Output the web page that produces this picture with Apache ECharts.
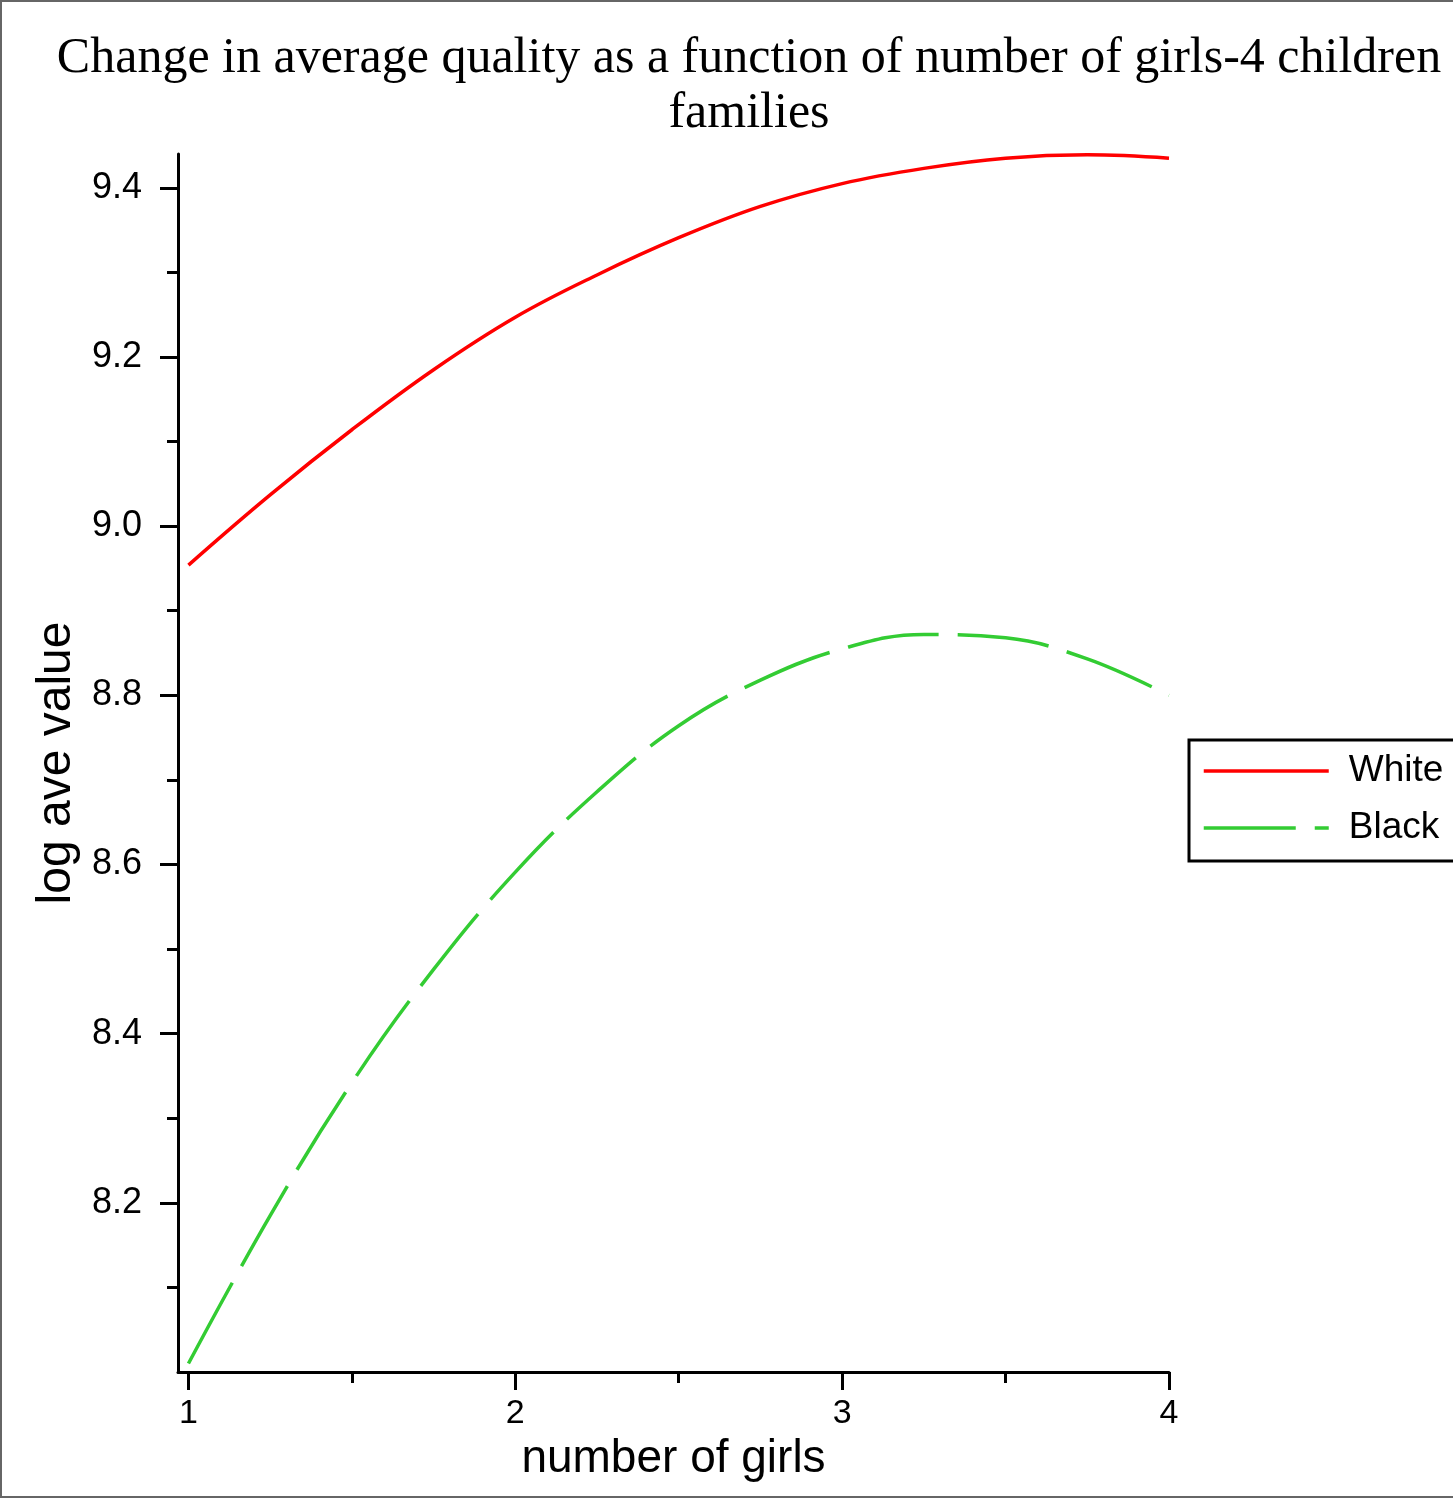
<!DOCTYPE html>
<html>
<head>
<meta charset="utf-8">
<title>Change in average quality</title>
<script src="https://cdn.jsdelivr.net/npm/echarts@6.0.0/dist/echarts.min.js"></script>
<style>
  html, body { margin: 0; padding: 0; background: #fff; }
  #chart { width: 1453px; height: 1499px; }
</style>
</head>
<body>
<div id="chart"></div>
<script>
// number of girls (x) sampled along both fitted curves
const girls = [1, 1.25, 1.5, 1.75, 2, 2.25, 2.5, 2.75, 3, 3.25, 3.5, 3.75, 4];
// log average value, White families
const whiteValues = [8.954, 9.037, 9.114, 9.185, 9.247, 9.297, 9.341, 9.378, 9.405, 9.423, 9.435, 9.439, 9.435];
// log average value, Black families
const blackValues = [8.010, 8.185, 8.342, 8.476, 8.591, 8.686, 8.764, 8.818, 8.855, 8.872, 8.868, 8.843, 8.800];

// axis ticks
const xMajorTicks = [1, 2, 3, 4];
const xMinorTicks = [1.5, 2.5, 3.5];
const yMajorTicks = [8.2, 8.4, 8.6, 8.8, 9.0, 9.2, 9.4];
const yMinorTicks = [8.1, 8.3, 8.5, 8.7, 8.9, 9.1, 9.3];

const xMin = 0.968, xMax = 4;
const yMin = 8.0, yMax = 9.44;

const pairs = vals => girls.map((g, i) => [g, vals[i]]);

const sans = '"Liberation Sans", Arial, Helvetica, sans-serif';
const serif = '"Liberation Serif", "Times New Roman", serif';
const axisLine = { show: true, onZero: false, lineStyle: { color: '#000', width: 3 } };

const chart = echarts.init(document.getElementById('chart'), null, { renderer: 'canvas' });
chart.setOption({
  animation: false,
  backgroundColor: '#fff',
  title: {
    text: 'Change in average quality as a function of number of girls-4 children\nfamilies',
    left: 749,
    top: 31,
    padding: 0,
    textAlign: 'center',
    textStyle: { fontFamily: serif, fontWeight: 'normal', fontSize: 50, lineHeight: 55, color: '#000' }
  },
  graphic: [{
    type: 'rect', silent: true, z: -1,
    shape: { x: 1, y: 1, width: 1470, height: 1496 },
    style: { fill: 'none', stroke: '#666', lineWidth: 2 }
  }],
  legend: {
    left: 1189, top: 740,
    orient: 'vertical',
    padding: [11, 22, 13, 13],
    borderColor: '#000', borderWidth: 3,
    itemWidth: 125, itemHeight: 10, itemGap: 17,
    itemStyle: { opacity: 0 },
    lineStyle: { width: 3.5 },
    textStyle: { fontFamily: sans, fontSize: 37, lineHeight: 40, color: '#000', padding: [0, 0, 0, 15] },
    data: ['White', 'Black']
  },
  grid: { left: 178, right: 284, top: 154, bottom: 127, outerBoundsMode: 'none' },
  xAxis: [{
    type: 'value', min: xMin, max: xMax,
    name: 'number of girls', nameLocation: 'middle', nameGap: 57,
    nameTextStyle: { fontFamily: sans, fontSize: 46, color: '#000' },
    axisLine: axisLine,
    axisTick: { show: true, customValues: xMajorTicks, length: 18, lineStyle: { color: '#000', width: 3 } },
    axisLabel: { customValues: xMajorTicks, margin: 25, fontFamily: sans, fontSize: 34, color: '#000', formatter: v => String(v) },
    splitLine: { show: false }
  }, {
    type: 'value', min: xMin, max: xMax, position: 'bottom',
    axisLine: { show: false },
    axisTick: { show: true, customValues: xMinorTicks, length: 11, lineStyle: { color: '#000', width: 3 } },
    axisLabel: { show: false },
    splitLine: { show: false }
  }],
  yAxis: [{
    type: 'value', min: yMin, max: yMax,
    name: 'log ave value', nameLocation: 'middle', nameGap: 93, nameRotate: 90,
    nameTextStyle: { fontFamily: sans, fontSize: 48, color: '#000' },
    axisLine: axisLine,
    axisTick: { show: true, customValues: yMajorTicks, length: 18, lineStyle: { color: '#000', width: 3 } },
    axisLabel: { customValues: yMajorTicks, margin: 36, fontFamily: sans, fontSize: 36, color: '#000', formatter: v => v.toFixed(1) },
    splitLine: { show: false }
  }, {
    type: 'value', min: yMin, max: yMax, position: 'left',
    axisLine: { show: false },
    axisTick: { show: true, customValues: yMinorTicks, length: 11, lineStyle: { color: '#000', width: 3 } },
    axisLabel: { show: false },
    splitLine: { show: false }
  }],
  series: [{
    name: 'White', type: 'line', xAxisIndex: 0, yAxisIndex: 0,
    data: pairs(whiteValues), smooth: 0.4, symbol: 'none',
    lineStyle: { color: '#ff0000', width: 3.5, type: 'solid' },
    itemStyle: { color: '#ff0000' }
  }, {
    name: 'Black', type: 'line', xAxisIndex: 0, yAxisIndex: 0,
    data: pairs(blackValues), smooth: 0.4, symbol: 'none',
    lineStyle: { color: '#33cc33', width: 3.5, type: [92, 19] },
    itemStyle: { color: '#33cc33' }
  }]
});
</script>
</body>
</html>
